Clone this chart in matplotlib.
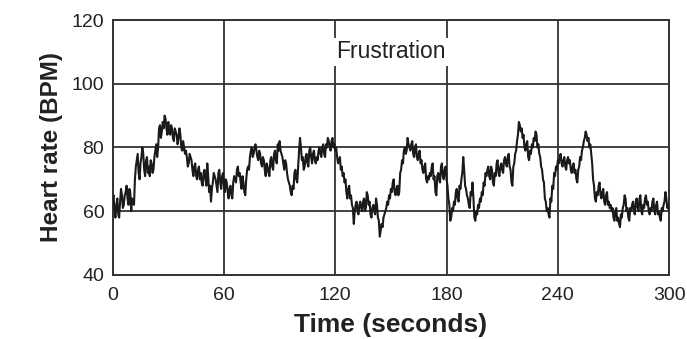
import numpy as np
import matplotlib
matplotlib.use("Agg")
import matplotlib.pyplot as plt

# Heart rate trace, one reading every half second (0..300 s)
dt = 0.5
hr = [
    64, 65, 60, 58, 62, 64, 59, 58, 63, 67, 65, 61, 62, 65, 66, 68, 64, 62, 67, 66,
    60, 64, 63, 62, 70, 74, 76, 78, 72, 70, 75, 77, 80, 78, 73, 71, 76, 77, 72, 74,
    71, 76, 75, 72, 73, 77, 79, 81, 77, 80, 86, 87, 83, 85, 88, 86, 90, 89, 86, 84,
    88, 85, 84, 87, 86, 83, 82, 86, 85, 84, 81, 83, 86, 84, 80, 79, 82, 80, 78, 79,
    77, 74, 75, 78, 77, 76, 73, 71, 74, 75, 71, 70, 73, 74, 70, 72, 69, 68, 72, 73,
    70, 68, 75, 71, 66, 68, 63, 67, 69, 72, 71, 70, 68, 66, 72, 73, 69, 67, 71, 72,
    68, 66, 70, 69, 66, 64, 67, 68, 65, 64, 69, 71, 70, 69, 73, 74, 71, 72, 69, 67,
    71, 69, 66, 65, 70, 73, 74, 73, 77, 79, 80, 77, 78, 80, 81, 79, 77, 76, 79, 78,
    75, 74, 77, 76, 73, 71, 75, 74, 72, 71, 76, 77, 74, 73, 78, 79, 76, 75, 81, 79,
    82, 79, 78, 77, 75, 73, 76, 75, 72, 70, 69, 68, 66, 65, 68, 67, 72, 73, 70, 69,
    74, 79, 83, 80, 76, 77, 73, 74, 77, 78, 75, 74, 79, 80, 77, 75, 78, 79, 76, 75,
    77, 76, 79, 80, 78, 77, 80, 81, 78, 77, 81, 80, 83, 82, 80, 79, 82, 83, 80, 81,
    79, 80, 77, 75, 76, 77, 73, 74, 71, 72, 69, 70, 66, 64, 67, 68, 64, 65, 62, 61,
    56, 60, 62, 63, 60, 59, 62, 63, 61, 60, 63, 64, 60, 61, 66, 65, 62, 63, 59, 58,
    61, 62, 60, 59, 64, 62, 58, 57, 52, 54, 56, 55, 58, 59, 60, 61, 63, 62, 65, 64,
    67, 66, 69, 70, 66, 65, 67, 68, 65, 66, 72, 73, 76, 75, 79, 80, 78, 79, 83, 81,
    80, 79, 81, 82, 78, 77, 80, 81, 77, 76, 78, 79, 75, 76, 73, 72, 74, 75, 70, 69,
    71, 70, 72, 71, 74, 75, 70, 71, 66, 65, 71, 72, 70, 69, 74, 75, 71, 70, 73, 74,
    70, 68, 64, 62, 57, 58, 61, 60, 63, 62, 66, 67, 64, 63, 68, 67, 70, 72, 77, 73,
    68, 67, 65, 64, 62, 61, 66, 65, 69, 64, 58, 57, 60, 59, 62, 61, 64, 63, 66, 65,
    69, 68, 72, 71, 73, 74, 71, 70, 74, 73, 69, 68, 72, 71, 75, 76, 72, 71, 74, 75,
    73, 72, 76, 77, 75, 74, 77, 78, 74, 73, 69, 68, 74, 75, 78, 79, 82, 84, 88, 87,
    85, 86, 83, 84, 80, 79, 81, 82, 77, 76, 79, 78, 81, 80, 83, 82, 85, 84, 80, 81,
    78, 77, 74, 73, 70, 69, 64, 63, 60, 61, 59, 58, 64, 63, 68, 67, 72, 71, 74, 73,
    76, 75, 77, 78, 75, 74, 76, 77, 74, 73, 76, 77, 75, 76, 73, 72, 74, 75, 72, 73,
    70, 69, 73, 74, 77, 76, 79, 80, 82, 83, 85, 84, 82, 83, 80, 81, 78, 75, 70, 68,
    64, 63, 66, 65, 68, 69, 65, 64, 66, 67, 63, 62, 65, 66, 62, 63, 61, 62, 60, 61,
    58, 57, 60, 61, 57, 58, 56, 55, 59, 58, 61, 62, 65, 64, 60, 61, 58, 57, 61, 60,
    62, 63, 60, 59, 63, 64, 61, 60, 64, 65, 60, 59, 62, 61, 64, 65, 62, 63, 60, 59,
    61, 60, 63, 64, 60, 59, 62, 63, 59, 60, 58, 57, 61, 60, 62, 63, 66, 64, 61, 62,
    60,
]
t = np.arange(len(hr)) * dt

x_ticks = [0, 60, 120, 180, 240, 300]
y_ticks = [40, 60, 80, 100, 120]

plt.rcParams['font.family'] = ['Liberation Sans', 'DejaVu Sans']

fig = plt.figure(figsize=(6.87, 3.39), dpi=100)
ax = fig.add_axes([0.164, 0.189, 0.81, 0.752])

ink = "#222222"
ax.plot(t, hr, color="#1a1a1a", lw=1.5, zorder=3)

ax.set_xlim(0, 300)
ax.set_ylim(40, 120)
ax.set_xticks(x_ticks)
ax.set_yticks(y_ticks)
ax.grid(True, color="#333333", lw=1.3)
ax.set_axisbelow(True)
for s in ax.spines.values():
    s.set_color("#333333")
    s.set_linewidth(1.4)
ax.tick_params(axis="both", length=0, labelsize=14, colors=ink)
ax.tick_params(axis="x", pad=9)
ax.tick_params(axis="y", pad=6)

ax.set_xlabel("Time (seconds)", fontsize=19, fontweight="bold", color=ink, labelpad=6)
ax.set_ylabel("Heart rate (BPM)", fontsize=17.5, fontweight="bold", color=ink, labelpad=6)

ax.text(150, 110, "Frustration", fontsize=16.5, color=ink, ha="center", va="center",
        bbox=dict(facecolor="white", edgecolor="none", pad=2), zorder=4)

fig.savefig("out.png", dpi=100)
